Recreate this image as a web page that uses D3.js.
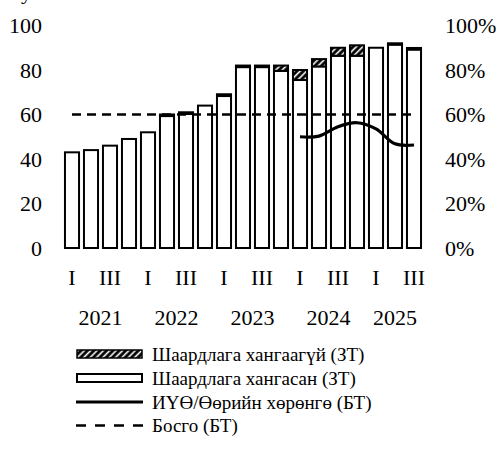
<!DOCTYPE html>
<html>
<head>
<meta charset="utf-8">
<script src="https://cdn.jsdelivr.net/npm/d3@7"></script>
<style>
  body { margin: 0; background: #fff; }
  svg text { font-family: "Liberation Serif", "Times New Roman", serif; fill: #000; }
</style>
</head>
<body>
<div id="chart"></div>
<script>
// quarters 2021 I .. 2025 III
const years = ["2021", "2021", "2021", "2021", "2022", "2022", "2022", "2022",
    "2023", "2023", "2023", "2023", "2024", "2024", "2024", "2024", "2025", "2025", "2025"];
const quarterLabels = ["I", "", "III", "", "I", "", "III", "", "I", "", "III", "",
    "I", "", "III", "", "I", "", "III"];

// Шаардлага хангасан (ЗТ)
const metValues = [43, 44, 46, 49, 52, 59.3, 60.3, 64, 68.3, 81.3, 81.3, 79.6, 75.5,
    81.6, 86.4, 86.4, 90, 91.4, 89.2];
// Шаардлага хангаагүй (ЗТ)
const unmetValues = [0, 0, 0, 0, 0, 0.7, 0.7, 0, 0.8, 0.7, 0.7, 2.4, 4.5,
    3.3, 3.6, 4.7, 0, 0.6, 0.7];
// ИҮӨ/Өөрийн хөрөнгө (БТ), 2024 I оноос
const ratioValues = [null, null, null, null, null, null, null, null, null, null, null, null,
    50, 50.3, 54.5, 56.3, 53.5, 46.8, 46.3];
// Босго (БТ)
const thresholdValues = Array(19).fill(60);

const leftTicks = [0, 20, 40, 60, 80, 100];
const rightTicks = [0, 20, 40, 60, 80, 100];

const legendLabels = ["Шаардлага хангаагүй (ЗТ)", "Шаардлага хангасан (ЗТ)",
    "ИҮӨ/Өөрийн хөрөнгө (БТ)", "Босго (БТ)"];

const width = 501, height = 454;

const svg = d3.select("#chart").append("svg")
    .attr("width", width)
    .attr("height", height);

const defs = svg.append("defs");
const pat = defs.append("pattern")
    .attr("id", "hatch")
    .attr("patternUnits", "userSpaceOnUse")
    .attr("width", 4.5)
    .attr("height", 4.5)
    .attr("patternTransform", "rotate(45)");
pat.append("rect").attr("width", 4.5).attr("height", 4.5).attr("fill", "#000");
pat.append("line")
    .attr("x1", 1.5).attr("y1", 0).attr("x2", 1.5).attr("y2", 4.5)
    .attr("stroke", "#fff").attr("stroke-width", 1.6);

const idx = d3.range(years.length);

const x = d3.scaleBand()
    .domain(idx)
    .range([62.5, 423.5])
    .paddingInner(0.26)
    .paddingOuter(0.13);

const y = d3.scaleLinear().domain([0, 100]).range([248, 25.5]);
const cx = i => x(i) + x.bandwidth() / 2;

// clipped title remnant at the top edge
svg.append("text").attr("x", 21).attr("y", -1).style("font-size", "22px").text("у");

// left axis
svg.append("g")
    .attr("transform", "translate(48,0)")
    .call(d3.axisLeft(y).tickValues(leftTicks).tickSize(0).tickPadding(6))
    .call(g => g.select(".domain").remove())
    .call(g => g.selectAll("text").style("font-size", "22px"));

// right axis
svg.append("g")
    .attr("transform", "translate(439,0)")
    .call(d3.axisRight(y).tickValues(rightTicks).tickSize(0).tickPadding(6).tickFormat(d => d + "%"))
    .call(g => g.select(".domain").remove())
    .call(g => g.selectAll("text").style("font-size", "22px"));

// bars
const bars = svg.append("g");
bars.selectAll(".met")
    .data(idx)
    .join("rect")
    .attr("x", i => x(i))
    .attr("y", i => y(metValues[i]))
    .attr("width", x.bandwidth())
    .attr("height", i => y(0) - y(metValues[i]))
    .attr("fill", "#fff")
    .attr("stroke", "#000")
    .attr("stroke-width", 2);

bars.selectAll(".unmet")
    .data(idx.filter(i => unmetValues[i] > 0))
    .join("rect")
    .attr("x", i => x(i))
    .attr("y", i => y(metValues[i] + unmetValues[i]))
    .attr("width", x.bandwidth())
    .attr("height", i => y(metValues[i]) - y(metValues[i] + unmetValues[i]))
    .attr("fill", "url(#hatch)")
    .attr("stroke", "#000")
    .attr("stroke-width", 2);

// threshold
svg.append("path")
    .datum(idx)
    .attr("d", d3.line().x(cx).y(i => y(thresholdValues[i])))
    .attr("fill", "none")
    .attr("stroke", "#000")
    .attr("stroke-width", 2.3)
    .attr("stroke-dasharray", "9,6");

// ratio line
svg.append("path")
    .datum(idx.filter(i => ratioValues[i] != null))
    .attr("d", d3.line().x(cx).y(i => y(ratioValues[i])).curve(d3.curveCatmullRom.alpha(0.5)))
    .attr("fill", "none")
    .attr("stroke", "#000")
    .attr("stroke-width", 3.2);

// x labels
svg.append("g").selectAll("text")
    .data(idx.filter(i => quarterLabels[i] !== ""))
    .join("text")
    .attr("x", cx)
    .attr("y", 285)
    .attr("text-anchor", "middle")
    .style("font-size", "22px")
    .text(i => quarterLabels[i]);

const yearGroups = d3.groups(idx, i => years[i]);
svg.append("g").selectAll("text")
    .data(yearGroups)
    .join("text")
    .attr("x", d => d3.mean(d[1], cx))
    .attr("y", 325)
    .attr("text-anchor", "middle")
    .style("font-size", "22px")
    .text(d => d[0]);

// legend
const legend = svg.append("g");
const rowY = [354, 378, 402, 425.5];
legendLabels.forEach((label, k) => {
    const gy = rowY[k];
    if (k === 0) {
        legend.append("rect").attr("x", 77).attr("y", gy - 4).attr("width", 65).attr("height", 8)
            .attr("fill", "url(#hatch)").attr("stroke", "#000").attr("stroke-width", 1.5);
    } else if (k === 1) {
        legend.append("rect").attr("x", 77).attr("y", gy - 4).attr("width", 65).attr("height", 8)
            .attr("fill", "#fff").attr("stroke", "#000").attr("stroke-width", 2);
    } else if (k === 2) {
        legend.append("line").attr("x1", 76).attr("x2", 143).attr("y1", gy).attr("y2", gy)
            .attr("stroke", "#000").attr("stroke-width", 3.2);
    } else {
        legend.append("line").attr("x1", 76).attr("x2", 143).attr("y1", gy).attr("y2", gy)
            .attr("stroke", "#000").attr("stroke-width", 2.3).attr("stroke-dasharray", "10,9");
    }
    legend.append("text")
        .attr("x", 152)
        .attr("y", gy)
        .attr("dy", "0.35em")
        .style("font-size", "19px")
        .text(label);
});
</script>
</body>
</html>
